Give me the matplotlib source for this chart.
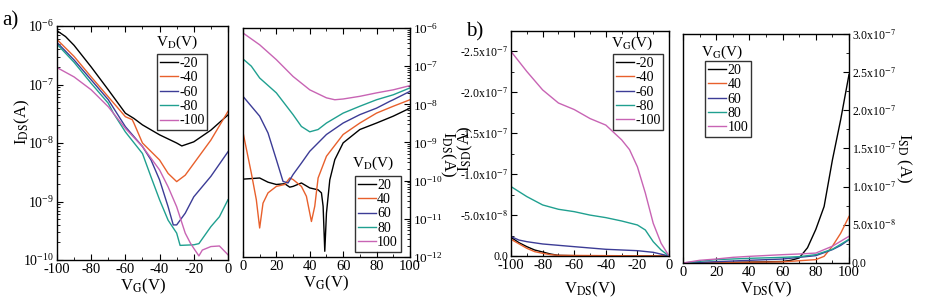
import numpy as np
import matplotlib
matplotlib.use("Agg")
import matplotlib.pyplot as plt
from matplotlib.ticker import MultipleLocator, LogLocator, FuncFormatter, NullFormatter

plt.rcParams['font.family'] = ['Liberation Serif', 'DejaVu Serif']
plt.rcParams['mathtext.fontset'] = 'stix'
plt.rcParams['axes.unicode_minus'] = False
plt.rcParams['font.size'] = 10

colors = ['black', '#e8602c', '#3c3c96', '#20a090', '#c864b4']

# ---- panel a, left: transfer curves, negative VD (log10 of I_DS)
vd_neg = ['-20', '-40', '-60', '-80', '-100']
a1_x = [
    [-100, -95, -90, -80, -70, -60, -55, -50, -40, -30, -27, -20, -10, 0],
    [-100, -90, -80, -70, -60, -56, -55, -50, -40, -35, -30, -25, -20, -10, 0],
    [-100, -90, -80, -70, -60, -50, -45, -40, -35, -32, -30, -25, -20, -10, 0],
    [-100, -90, -80, -70, -67, -60, -50, -45, -40, -35, -30, -28, -20, -17, -10, -5, 0],
    [-100, -90, -80, -70, -60, -50, -40, -35, -30, -25, -22, -20, -17, -15, -10, -5, -3, 0],
]
a1_log = [
    [-6.08, -6.18, -6.33, -6.70, -7.09, -7.49, -7.58, -7.69, -7.86, -8.00, -8.05, -7.98, -7.78, -7.52],
    [-6.23, -6.52, -6.87, -7.21, -7.55, -7.60, -7.66, -8.00, -8.29, -8.52, -8.66, -8.55, -8.35, -7.95, -7.46],
    [-6.28, -6.58, -6.92, -7.26, -7.72, -8.06, -8.29, -8.63, -9.09, -9.40, -9.40, -9.20, -8.92, -8.57, -8.15],
    [-6.31, -6.62, -6.98, -7.32, -7.49, -7.81, -8.18, -8.58, -8.97, -9.32, -9.54, -9.75, -9.74, -9.72, -9.43, -9.26, -8.97],
    [-6.71, -6.87, -7.09, -7.38, -7.75, -8.06, -8.46, -8.75, -9.09, -9.54, -9.71, -9.80, -9.93, -9.83, -9.77, -9.76, -9.82, -9.91],
]

# ---- panel a, right: transfer curves, positive VD (log10 of I_DS)
vd_pos = ['20', '40', '60', '80', '100']
a2_x = [
    [0, 10, 15, 20, 25, 28, 30, 35, 40, 45, 47, 48, 49, 50, 52, 55, 60, 70, 80, 90, 100],
    [0, 5, 8, 10, 12, 15, 20, 25, 28, 30, 35, 38, 40, 41, 43, 45, 50, 60, 70, 80, 90, 100],
    [0, 5, 10, 15, 20, 24, 27, 30, 35, 40, 50, 60, 70, 80, 88, 90, 100],
    [0, 5, 10, 20, 30, 35, 40, 45, 50, 60, 70, 80, 90, 100],
    [0, 10, 20, 30, 40, 50, 55, 60, 70, 80, 90, 100],
]
a2_log = [
    [-9.96, -9.93, -10.04, -10.10, -10.08, -10.17, -10.15, -10.06, -10.19, -10.24, -10.32, -10.67, -11.85, -10.85, -9.98, -9.45, -9.01, -8.66, -8.49, -8.31, -8.10],
    [-8.73, -9.80, -10.50, -11.24, -10.59, -10.32, -10.15, -10.10, -9.93, -9.97, -10.15, -10.41, -10.85, -11.07, -10.67, -9.93, -9.36, -8.79, -8.49, -8.23, -8.05, -7.88],
    [-7.79, -8.05, -8.31, -8.75, -9.45, -10.02, -10.06, -9.84, -9.54, -9.23, -8.79, -8.49, -8.27, -8.10, -7.92, -7.88, -7.66],
    [-6.81, -7.00, -7.31, -7.70, -8.27, -8.58, -8.72, -8.66, -8.49, -8.23, -8.05, -7.88, -7.75, -7.57],
    [-6.13, -6.44, -6.83, -7.27, -7.62, -7.83, -7.88, -7.86, -7.79, -7.70, -7.62, -7.51],
]

# ---- panel b, left: output curves, negative VG (I_SD in units of 1e-7 A)
vg_neg = ['-20', '-40', '-60', '-80', '-100']
b1_x = [
    [-100, -95, -90, -85, -80, -75, -70, -60, 0],
    [-100, -90, -85, -80, -75, -70, 0],
    [-100, -95, -90, -80, -60, -40, -20, -10, 0],
    [-100, -90, -80, -70, -60, -50, -40, -30, -20, -15, -10, -5, 0],
    [-100, -90, -80, -70, -60, -50, -40, -30, -25, -20, -15, -10, -5, 0],
]
b1_y = [
    [-0.228, -0.163, -0.114, -0.073, -0.049, -0.024, -0.008, -0.004, 0.0],
    [-0.204, -0.094, -0.053, -0.033, -0.016, -0.008, 0.0],
    [-0.237, -0.195, -0.175, -0.147, -0.114, -0.082, -0.065, -0.045, 0.0],
    [-0.848, -0.726, -0.624, -0.571, -0.542, -0.500, -0.469, -0.428, -0.379, -0.318, -0.175, -0.073, 0.0],
    [-2.50, -2.255, -2.03, -1.87, -1.79, -1.68, -1.60, -1.42, -1.30, -1.09, -0.77, -0.40, -0.155, 0.0],
]

# ---- panel b, right: output curves, positive VG (I_SD in units of 1e-7 A)
vg_pos = ['20', '40', '60', '80', '100']
b2_x = [
    [0, 10, 60, 65, 70, 75, 80, 85, 90, 95, 100],
    [0, 20, 60, 80, 85, 90, 95, 100],
    [0, 20, 40, 60, 80, 90, 95, 100],
    [0, 10, 20, 40, 60, 70, 80, 90, 100],
    [0, 10, 20, 30, 40, 60, 70, 80, 90, 100],
]
b2_y = [
    [0.0, 0.0, 0.02, 0.035, 0.066, 0.20, 0.44, 0.74, 1.35, 1.88, 2.47],
    [0.0, 0.005, 0.015, 0.044, 0.087, 0.22, 0.39, 0.61],
    [0.0, 0.017, 0.035, 0.052, 0.096, 0.175, 0.23, 0.306],
    [0.0, 0.022, 0.044, 0.061, 0.074, 0.083, 0.109, 0.18, 0.31],
    [0.0, 0.035, 0.052, 0.074, 0.087, 0.109, 0.118, 0.13, 0.22, 0.35],
]

fig = plt.figure(figsize=(9.37, 3.04), dpi=100)
ax1 = fig.add_axes([0.0608, 0.1447, 0.1825, 0.7697])
ax2 = fig.add_axes([0.2593, 0.1546, 0.1782, 0.7533])
ax3 = fig.add_axes([0.5454, 0.1579, 0.1686, 0.7401])
ax4 = fig.add_axes([0.7289, 0.1349, 0.1772, 0.7533])


def style(ax, right=False, ysize=10):
    ax.tick_params(which='both', direction='in', top=True, right=right, left=not right,
                   labelleft=not right, labelright=right, pad=2)
    ax.tick_params(axis='x', labelsize=10.5)
    ax.tick_params(axis='y', labelsize=ysize)
    ax.tick_params(which='major', length=4)
    ax.tick_params(which='minor', length=2)
    ax.xaxis.set_major_locator(MultipleLocator(20))
    ax.xaxis.set_minor_locator(MultipleLocator(10))
    for s in ax.spines.values():
        s.set_linewidth(1.0)


def place_ylabel(ax, text, x, y, rot):
    ax.set_ylabel(text, fontsize=12, rotation=rot)
    ax.yaxis.set_label_coords(x, y)
    ax.yaxis.label.set_ha('center')
    ax.yaxis.label.set_va('center')


def add_legend(ax, labels, xy, title, title_xy):
    leg = ax.legend(labels, loc='upper left', bbox_to_anchor=xy, fontsize=10,
                    frameon=True, fancybox=False, edgecolor='black', handlelength=1.3,
                    handletextpad=0.1, borderpad=0.2, labelspacing=0.1, borderaxespad=0)
    leg.get_frame().set_linewidth(1.0)
    ax.text(title_xy[0], title_xy[1], title, transform=ax.transAxes, ha='center',
            va='center', fontsize=11)


def sci_fmt(v, pos):
    if abs(v) < 1e-12:
        return '0.0'
    e = int(np.floor(np.log10(abs(v)) + 1e-9))
    m = v / 10 ** e
    return r'%.1fx10$^{%d}$' % (m, e)


# panel a left
for x, ly, c in zip(a1_x, a1_log, colors):
    ax1.plot(x, 10 ** np.array(ly), color=c, lw=1.0)
ax1.set_yscale('log')
ax1.set_xlim(-100, 0)
ax1.set_ylim(1e-10, 1e-6)
style(ax1)
ax1.yaxis.set_major_locator(LogLocator(base=10, numticks=10))
ax1.yaxis.set_minor_formatter(NullFormatter())
ax1.set_xlabel(r'V$_\mathrm{G}$(V)', fontsize=12, labelpad=1)
place_ylabel(ax1, r'I$_\mathrm{DS}$(A)', -0.2, 0.59, 90)
add_legend(ax1, vd_neg, (0.585, 0.88), r'V$_\mathrm{D}$(V)', (0.70, 0.93))
fig.text(0.002, 0.915, 'a)', fontsize=15)

# panel a right
for x, ly, c in zip(a2_x, a2_log, colors):
    ax2.plot(x, 10 ** np.array(ly), color=c, lw=1.0)
ax2.set_yscale('log')
ax2.set_xlim(0, 100)
ax2.set_ylim(1e-12, 1e-6)
style(ax2, right=True, ysize=9.5)
ax2.yaxis.set_major_locator(LogLocator(base=10, numticks=10))
ax2.yaxis.set_minor_formatter(NullFormatter())
ax2.yaxis.set_label_position('right')
ax2.set_xlabel(r'V$_\mathrm{G}$(V)', fontsize=12, labelpad=1)
place_ylabel(ax2, r'I$_\mathrm{DS}$(A)', 1.225, 0.45, 270)
add_legend(ax2, vd_pos, (0.67, 0.354), r'V$_\mathrm{D}$(V)', (0.78, 0.41))

# panel b left
for x, y, c in zip(b1_x, b1_y, colors):
    ax3.plot(x, np.array(y) * 1e-7, color=c, lw=1.0)
ax3.set_xlim(-100, 0)
ax3.set_ylim(0, -2.75e-7)
style(ax3, ysize=8.5)
ax3.yaxis.set_major_locator(MultipleLocator(5e-8))
ax3.yaxis.set_minor_locator(MultipleLocator(2.5e-8))
ax3.yaxis.set_major_formatter(FuncFormatter(sci_fmt))
ax3.set_xlabel(r'V$_\mathrm{DS}$(V)', fontsize=12, labelpad=6)
place_ylabel(ax3, r'I$_\mathrm{SD}$(A)', -0.29, 0.475, 90)
add_legend(ax3, vg_neg, (0.646, 0.898), r'V$_\mathrm{G}$(V)', (0.766, 0.945))
fig.text(0.497, 0.88, 'b)', fontsize=15)

# panel b right
for x, y, c in zip(b2_x, b2_y, colors):
    ax4.plot(x, np.array(y) * 1e-7, color=c, lw=1.0)
ax4.set_xlim(0, 100)
ax4.set_ylim(0, 3.0e-7)
style(ax4, right=True, ysize=8.5)
ax4.yaxis.set_major_locator(MultipleLocator(5e-8))
ax4.yaxis.set_minor_locator(MultipleLocator(2.5e-8))
ax4.yaxis.set_major_formatter(FuncFormatter(sci_fmt))
ax4.yaxis.set_label_position('right')
ax4.set_xlabel(r'V$_\mathrm{DS}$(V)', fontsize=12, labelpad=1)
place_ylabel(ax4, r'I$_\mathrm{SD}$ (A)', 1.33, 0.46, 270)
add_legend(ax4, vg_pos, (0.133, 0.882), r'V$_\mathrm{G}$(V)', (0.235, 0.92))

fig.savefig('out.png', dpi=100)
